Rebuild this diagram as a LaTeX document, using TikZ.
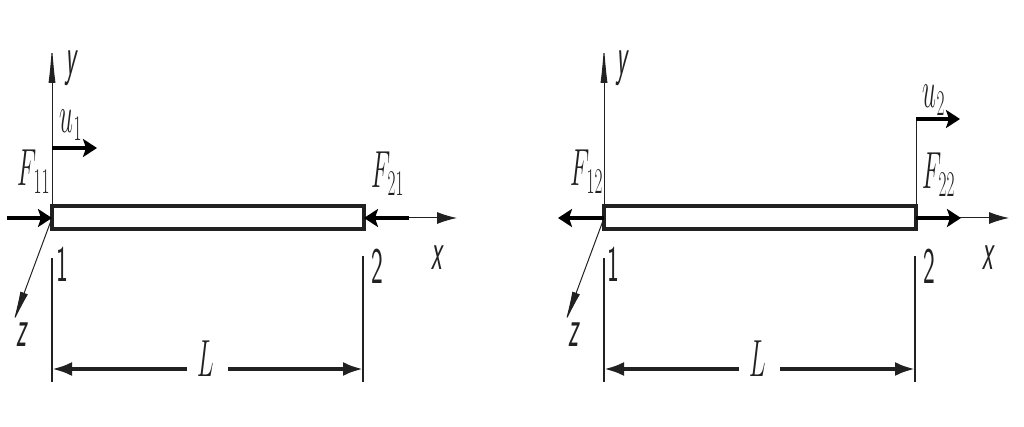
\documentclass[tikz,border=0pt]{standalone}
\usepackage{amsmath}
\usetikzlibrary{arrows.meta}

\definecolor{ink}{gray}{0.13}
\tikzset{
  lblbase/.style={inner sep=0pt,color=ink},
  lbl/.style={lblbase,font=\fontsize{23}{23}\selectfont,yscale=2.1,transform shape},
  numlbl/.style={lblbase,font=\fontsize{25}{25}\sffamily\selectfont,yscale=2.05,transform shape},
  axlbl/.style={lblbase,font=\fontsize{24}{24}\sffamily\selectfont,xslant=0.12,yscale=2.3,transform shape},
  axisline/.style={draw=ink,line width=1pt,-{Latex[length=38pt,width=7pt]}},
  xaxisline/.style={draw=ink,line width=1pt,-{Latex[length=20pt,width=12pt]}},
  zaxisline/.style={draw=ink,line width=1pt,-{Latex[length=32pt,width=8pt]}},
  thinline/.style={draw=ink,line width=1pt},
  force/.style={draw=black,line width=3.2pt,-{Stealth[length=14pt,width=18pt,inset=3pt]}},
  barbox/.style={draw=ink,line width=3.8pt},
  dimline/.style={draw=ink,line width=2.2pt},
  dimarrow/.style={draw=ink,line width=3.6pt,-{Latex[length=20pt,width=14pt]}}
}

\begin{document}
\begin{tikzpicture}[x=1pt,y=-1pt]
\useasboundingbox (0,0) rectangle (1024,427);

% left element
\coordinate (o1) at (52,218);
\coordinate (top1) at (52,206);
\coordinate (ytip1) at (52,45);
\coordinate (ztip1) at (13,323);
\coordinate (barend1) at (364,229);
\coordinate (xfrom1) at (409,218);
\coordinate (xtip1) at (457,218);
\coordinate (end1) at (364,218);
\coordinate (ftail1) at (7,218);
\coordinate (ftail2) at (409,218);
\coordinate (ubase1) at (52,148);
\coordinate (utip1) at (97,148);
\coordinate (dima1) at (52,258);
\coordinate (dima2) at (52,382);
\coordinate (dimb1) at (363,256);
\coordinate (dimb2) at (363,382);
\coordinate (arra) at (52,369);
\coordinate (arrb) at (363,369);
\coordinate (gapa) at (187,369);
\coordinate (gapb) at (228,369);

\draw[barbox] (top1) rectangle (barend1);
\draw[axisline] (top1) -- (ytip1);
\draw[zaxisline] (o1) -- (ztip1);
\draw[xaxisline] (xfrom1) -- (xtip1);
\draw[force] (ftail1) -- (o1);
\draw[force] (ftail2) -- (end1);
\draw[force] (ubase1) -- (utip1);
\draw[dimline] (dima1) -- (dima2);
\draw[dimline] (dimb1) -- (dimb2);
\draw[dimarrow] (gapa) -- (arra);
\draw[dimarrow] (gapb) -- (arrb);

\node[axlbl] (ylab1) at (71,68) {y};
\node[axlbl] (xlab1) at (438,258) {x};
\node[axlbl] (zlab1) at (23,335) {z};
\node[lbl] (ulab1) at (71,125) {$u_1$};
\node[lbl] (flab1) at (34,172) {$F_{11}$};
\node[lbl] (flab2) at (388,174) {$F_{21}$};
\node[numlbl] (num1) at (62,264) {1};
\node[numlbl] (num2) at (377,266) {2};
\node[lbl] (llab1) at (206,359) {$L$};

% right element
\coordinate (o2) at (604,218);
\coordinate (top2) at (604,206);
\coordinate (ytip2) at (604,45);
\coordinate (ztip2) at (565,323);
\coordinate (barend2) at (916,229);
\coordinate (end2) at (916,218);
\coordinate (xtip2) at (1009,218);
\coordinate (ftip1) at (558,218);
\coordinate (ftip2) at (961,218);
\coordinate (ubase2) at (916,119);
\coordinate (utip2) at (960,119);
\coordinate (barup2) at (916,206);
\coordinate (dimc1) at (604,258);
\coordinate (dimc2) at (604,382);
\coordinate (dimd1) at (915,256);
\coordinate (dimd2) at (915,382);
\coordinate (arrc) at (604,369);
\coordinate (arrd) at (915,369);
\coordinate (gapc) at (739,369);
\coordinate (gapd) at (780,369);

\draw[barbox] (top2) rectangle (barend2);
\draw[axisline] (top2) -- (ytip2);
\draw[zaxisline] (o2) -- (ztip2);
\draw[xaxisline] (end2) -- (xtip2);
\draw[thinline] (barup2) -- (ubase2);
\draw[force] (o2) -- (ftip1);
\draw[force] (end2) -- (ftip2);
\draw[force] (ubase2) -- (utip2);
\draw[dimline] (dimc1) -- (dimc2);
\draw[dimline] (dimd1) -- (dimd2);
\draw[dimarrow] (gapc) -- (arrc);
\draw[dimarrow] (gapd) -- (arrd);

\node[axlbl] (ylab2) at (622,68) {y};
\node[axlbl] (xlab2) at (989,258) {x};
\node[axlbl] (zlab2) at (575,335) {z};
\node[lbl] (ulab2) at (934,100) {$u_2$};
\node[lbl] (flab3) at (587,172) {$F_{12}$};
\node[lbl] (flab4) at (939,175) {$F_{22}$};
\node[numlbl] (num3) at (613,264) {1};
\node[numlbl] (num4) at (929,266) {2};
\node[lbl] (llab2) at (758,359) {$L$};
\end{tikzpicture}
\end{document}
